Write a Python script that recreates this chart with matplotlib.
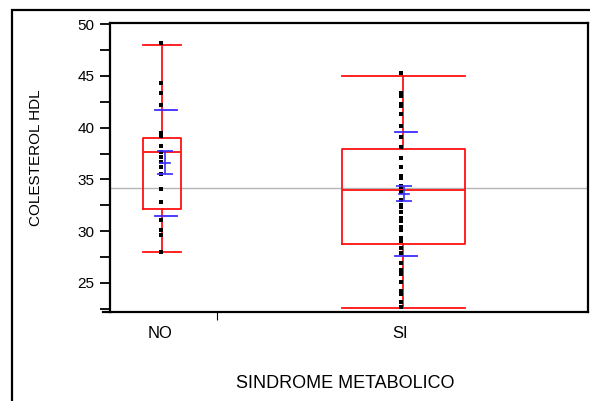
import numpy as np
import matplotlib.pyplot as plt
from matplotlib.patches import Rectangle
from matplotlib.ticker import MultipleLocator

plt.rcParams['font.family'] = ['Liberation Sans', 'DejaVu Sans']

# DATA
groups = ['NO', 'SI']
no_vals = [48.2, 44.3, 43.3, 42.2, 39.5, 39.2, 38.2, 37.6, 37.2, 36.7, 36.2,
           35.5, 34.1, 32.8, 31.1, 30.1, 29.6, 28.0]
si_vals = [45.3, 43.3, 43.05, 42.3, 42.2, 42.1, 41.3, 40.2, 39.1, 38.15, 37.1,
           36.2, 35.3, 35.1, 34.3, 34.4, 33.8, 33.0, 32.5, 32.3, 31.9, 31.25,
           31.0, 30.4, 30.1, 29.3, 29.05, 28.35, 27.9, 26.9, 26.25, 25.9, 25.05,
           24.2, 23.9, 23.2, 22.7]
whis_lo = [28.0, 22.6]
q1 = [32.1, 28.8]
median = [37.6, 34.0]
q3 = [39.0, 37.9]
whis_hi = [48.0, 45.0]
means = [36.6, 33.6]
sds = [5.1, 6.0]
ses = [1.1, 0.72]
grand_mean = 34.2

fig = plt.figure(figsize=(5.9, 4.01), dpi=100)
ax = fig.add_axes([110 / 590, 1 - 312 / 401, 478 / 590, 289 / 401])

# layout of the two groups along x (0..1)
boundary = 0.224
box_pos = [0.109, 0.614]
box_w = [0.0795, 0.257]
pt_pos = [0.107, 0.609]
sd_pos = [0.118, 0.619]
se_pos = [0.115, 0.615]

red = '#ff1010'
blue = '#3a2cff'

ax.axhline(grand_mean, color='#b4b4b4', lw=1.0, zorder=1)

stats = []
for i in range(2):
    stats.append(dict(whislo=whis_lo[i], q1=q1[i], med=median[i], q3=q3[i],
                      whishi=whis_hi[i], fliers=[]))
for i in range(2):
    ax.bxp([stats[i]], positions=[box_pos[i]], widths=[box_w[i]],
           capwidths=[box_w[i]], manage_ticks=False,
           boxprops=dict(color=red, lw=1.3),
           medianprops=dict(color=red, lw=1.3),
           whiskerprops=dict(color=red, lw=1.3),
           capprops=dict(color=red, lw=1.3))

for i, vals in enumerate([no_vals, si_vals]):
    ax.plot([pt_pos[i]] * len(vals), vals, 's', color='black', ms=2.3,
            mew=0, zorder=4)
    # std dev lines
    for y in (means[i] - sds[i], means[i] + sds[i]):
        ax.plot([sd_pos[i] - 0.023, sd_pos[i] + 0.023], [y, y], color=blue,
                lw=1.3, zorder=5)
    # mean error bars
    ax.errorbar(se_pos[i], means[i], yerr=ses[i], color=blue, lw=1.2,
                capsize=6, capthick=1.2, zorder=5)
    ax.plot([se_pos[i] - 0.011, se_pos[i] + 0.011], [means[i], means[i]],
            color=blue, lw=1.2, zorder=5)

ax.set_xlim(0, 1)
ax.set_ylim(22.2, 50.1)
ax.yaxis.set_major_locator(MultipleLocator(5))
ax.yaxis.set_minor_locator(MultipleLocator(2.5))
ax.tick_params(axis='y', which='both', direction='out', length=7, width=1.3,
               labelsize=11, pad=4)
ax.set_xticks([boundary])
ax.set_xticklabels([''])
ax.tick_params(axis='x', direction='out', length=6, width=0.8)
for i, g in enumerate(groups):
    ax.text((i == 0) * 0.105 + (i == 1) * 0.607, -0.075, g,
            transform=ax.transAxes, ha='center', va='center', fontsize=12)

for s in ax.spines.values():
    s.set_linewidth(1.6)
# bottom axis line runs a little past the left spine
ax.plot([-0.015, 0], [0, 0], color='black', lw=1.6, transform=ax.transAxes,
        clip_on=False)

ax.set_ylabel('COLESTEROL HDL', fontsize=11)
ax.yaxis.set_label_coords(-0.140, 0.535)
fig.text(345 / 590, 1 - 383 / 401, 'SINDROME METABOLICO', ha='center',
         va='center', fontsize=13)

# outer frame
fig.add_artist(Rectangle((12 / 590, -0.1), 1.2, 1 - 10 / 401 + 0.1,
                         transform=fig.transFigure, fill=False, lw=1.6,
                         edgecolor='black', clip_on=False))

fig.savefig('out.png', dpi=100)
